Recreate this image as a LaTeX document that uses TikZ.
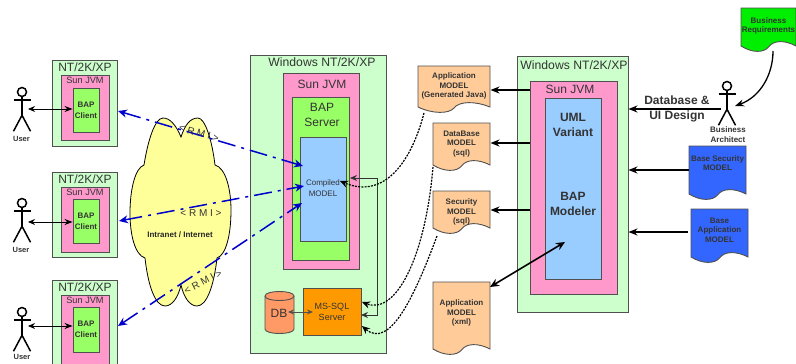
\documentclass[tikz,border=0pt]{standalone}
\usepackage{fontspec}
\setmainfont{Liberation Sans}
\usetikzlibrary{arrows.meta}
\definecolor{lgreen}{HTML}{CCFFCC}
\definecolor{pinkb}{HTML}{FF99CC}
\definecolor{greenb}{HTML}{99FF66}
\definecolor{blueb}{HTML}{99CCFF}
\definecolor{docor}{HTML}{FFCC99}
\definecolor{sqlor}{HTML}{FF9900}
\definecolor{dbor}{HTML}{FF9966}
\definecolor{cloudy}{HTML}{FFFF99}
\definecolor{docbl}{HTML}{3366FF}
\definecolor{docgr}{HTML}{00EE00}
\definecolor{edge}{HTML}{505050}
\definecolor{ink}{HTML}{333333}
\tikzset{
  boxs/.style={draw=edge,line width=.9pt,inner sep=0pt,text=ink,align=center},
  outer/.style={boxs,fill=lgreen},
  pinkbox/.style={boxs,fill=pinkb},
  greenbox/.style={boxs,fill=greenb},
  bluebox/.style={boxs,fill=blueb},
  lbl/.style={inner sep=0pt,align=center,text=ink},
  small/.style={lbl,font=\fontsize{8}{9.6}\selectfont\bfseries},
  solidarrow/.style={-{Stealth[length=9pt,width=7pt]},line width=1.6pt,draw=black},
  twoway/.style={{Stealth[length=7pt,width=6pt]}-{Stealth[length=8pt,width=6pt]},line width=1pt,draw=black},
  rmi/.style={{Stealth[length=9pt,width=8pt]}-{Stealth[length=9pt,width=8pt]},line width=1.5pt,draw=blue!80!black,dash pattern=on 18pt off 6pt on 3pt off 6pt},
  dotarrow/.style={-{Stealth[length=8pt,width=7pt]},line width=1.2pt,draw=black,dash pattern=on 2pt off 1.2pt},
  actorline/.style={draw=black,line width=1.5pt},
  rmitext/.style={inner sep=0pt,text=ink,font=\fontsize{10}{12}\selectfont},
}
% name x1 y1 x2 y2 style
\newcommand\rbox[6]{%
  \pgfmathsetmacro\bw{#4-#2}\pgfmathsetmacro\bh{#5-#3}%
  \pgfmathsetmacro\bx{(#2+#4)/2}\pgfmathsetmacro\by{(#3+#5)/2}%
  \node[#6,minimum width=\bw pt,minimum height=\bh pt] (#1) at (\bx,\by) {};}
% name x1 y1 x2 y2 fill textcolor text-y text
\newcommand\docshape[9]{%
  \pgfmathsetmacro\bw{#4-#2}%
  \pgfmathsetmacro\ya{#5-6}\pgfmathsetmacro\yb{#5-12}\pgfmathsetmacro\yc{#5+1}\pgfmathsetmacro\yd{#5-5}%
  \pgfmathsetmacro\xa{#2+0.2*\bw}\pgfmathsetmacro\xb{#2+0.5*\bw}\pgfmathsetmacro\xc{#2+0.8*\bw}%
  \draw[draw=edge,line width=.9pt,fill=#6] (#2,#3) -- (#4,#3) -- (#4,\ya)
    .. controls (\xc,\yb) and (\xb+5,\yb) .. (\xb,\yd)
    .. controls (\xb-5,\yc) and (\xa,\yc) .. (#2,\ya) -- cycle;
  \pgfmathsetmacro\bx{(#2+#4)/2}%
  \node[small,text=#7] (#1) at (\bx,#8) {#9};}
% name headx heady
\newcommand\actor[3]{%
  \node[circle,draw=black,line width=1.5pt,minimum size=9pt,inner sep=0pt] (#1) at (#2,#3) {};
  \draw[actorline] (#1.south) -- ++(0,18) coordinate (#1hip);
  \draw[actorline] (#2-8.5,#3+8) -- (#2+8.5,#3+8);
  \draw[actorline] (#1hip) -- ++(-8.5,16);
  \draw[actorline] (#1hip) -- ++(8.5,16);}
\begin{document}
\begin{tikzpicture}[x=1pt,y=-1pt]
\path[use as bounding box,fill=white] (0,0) rectangle (796,364);

% clients
\rbox{c1o}{52}{60}{117}{146}{outer}
\rbox{c1p}{61}{75}{109}{140}{pinkbox}
\rbox{c1g}{73}{88}{99}{132}{greenbox}
\rbox{c2o}{52}{172}{117}{257}{outer}
\rbox{c2p}{61}{187}{109}{252}{pinkbox}
\rbox{c2g}{73}{199}{99}{243}{greenbox}
\rbox{c3o}{52}{280}{117}{372}{outer}
\rbox{c3p}{61}{295}{109}{368}{pinkbox}
\rbox{c3g}{73}{307}{99}{352}{greenbox}
\foreach \i/\yo/\yj/\yc in {1/67/80/110,2/179/192/221,3/287/300/329}{
  \node[lbl,font=\fontsize{12}{14}\selectfont] (nt\i) at (85,\yo) {NT/2K/XP};
  \node[lbl,font=\fontsize{9.2}{11}\selectfont] (jv\i) at (85,\yj) {Sun JVM};
  \node[small,text=black!80] (bc\i) at (86,\yc) {BAP\\[1pt]Client};
}

% actors
\actor{u1}{22}{92}
\actor{u2}{22}{203}
\actor{u3}{22}{312}
\node[small,font=\fontsize{7.5}{9}\selectfont\bfseries] (ul1) at (21.5,139) {User};
\node[small,font=\fontsize{7.5}{9}\selectfont\bfseries] (ul2) at (21,250) {User};
\node[small,font=\fontsize{7.5}{9}\selectfont\bfseries] (ul3) at (22,357) {User};
\coordinate (ua1) at (28,109);
\coordinate (ua2) at (28,222);
\coordinate (ua3) at (28,326);
\draw[twoway] (ua1) -- (ua1 -| c1g.west);
\draw[twoway] (ua2) -- (ua2 -| c2g.west);
\draw[twoway] (ua3) -- (ua3 -| c3g.west);

% cloud
\draw[draw=black,line width=.8pt,fill=cloudy] (181,137)
  .. controls (176,125) and (170,118) .. (163,118)
  .. controls (155,118) and (148,140) .. (144,165)
  .. controls (135,168) and (130,190) .. (130,213)
  .. controls (130,235) and (135,255) .. (145,258)
  .. controls (148,285) and (155,306) .. (165,306)
  .. controls (172,306) and (178,298) .. (181,285)
  .. controls (184,298) and (190,306) .. (197,306)
  .. controls (207,306) and (214,285) .. (217,258)
  .. controls (226,255) and (231,235) .. (231,210)
  .. controls (231,190) and (226,168) .. (215,165)
  .. controls (212,140) and (205,118) .. (198,118)
  .. controls (190,118) and (185,125) .. (181,137) -- cycle;
\node[small,text=black!85] (net) at (180,235) {Intranet / Internet};

% server box
\rbox{so}{250}{55}{386}{353}{outer}
\node[lbl,font=\fontsize{12.2}{15}\selectfont] (st) at (322,62) {Windows NT/2K/XP};
\rbox{sp}{283}{73}{359}{269}{pinkbox}
\node[lbl,font=\fontsize{12}{14}\selectfont] (sj) at (322,84) {Sun JVM};
\rbox{sg}{292}{97}{349}{260}{greenbox}
\node[lbl,font=\fontsize{12}{15}\selectfont] (sb) at (322,115) {BAP\\Server};
\rbox{sm}{300}{137}{346}{241}{bluebox}
\node[lbl,font=\fontsize{8}{10.5}\selectfont] (cm) at (323,188) {Compiled\\MODEL};

% DB
\draw[draw=edge,line width=.9pt,fill=dbor] (265,296) -- (265,329)
  .. controls (265,335) and (294,335) .. (294,329) -- (294,296)
  .. controls (294,290) and (265,290) .. (265,296) -- cycle;
\draw[draw=edge,line width=.9pt] (265,296) .. controls (265,302) and (294,302) .. (294,296);
\node[lbl,font=\fontsize{12}{14}\selectfont] (db) at (279,313) {DB};
\rbox{sql}{303}{288}{361}{335}{boxs,fill=sqlor}
\node[lbl,font=\fontsize{9}{11}\selectfont] (sqlt) at (332,311.5) {MS-SQL\\Server};
\coordinate (dbe) at (288,312);
\coordinate (sqw) at (313,312);
\draw[{Stealth[length=6pt,width=5pt]}-{Stealth[length=6pt,width=5pt]},line width=1pt,draw=edge] (dbe) -- (sqw);

% right box
\rbox{ro}{517}{56}{628}{312}{outer}
\node[lbl,font=\fontsize{12.2}{15}\selectfont] (rt) at (574,65) {Windows NT/2K/XP};
\rbox{rp}{530}{81}{617}{294}{pinkbox}
\node[lbl,font=\fontsize{12}{14}\selectfont] (rj) at (570,89) {Sun JVM};
\rbox{rm}{545}{98}{601}{279}{bluebox}
\node[lbl,font=\fontsize{12}{15}\selectfont\bfseries] (uml) at (573,124.5) {UML\\Variant};
\node[lbl,font=\fontsize{12}{15}\selectfont\bfseries] (bm) at (573,203.5) {BAP\\Modeler};

% documents
\docshape{d1}{418}{66}{490}{113}{docor}{black!80}{86}{Application\\MODEL\\(Generated Java)}
\docshape{d2}{433}{123}{490}{171}{docor}{black!80}{144}{DataBase\\MODEL\\(sql)}
\docshape{d3}{433}{191}{490}{234}{docor}{black!80}{212}{Security\\MODEL\\(sql)}
\docshape{d4}{433}{282}{490}{355}{docor}{black!80}{313}{Application\\MODEL\\(xml)}
\docshape{d5}{689}{146}{746}{200}{docbl}{black!80}{163}{Base Security\\MODEL}
\docshape{d6}{691}{209}{748}{263}{docbl}{black!80}{230}{Base\\Application\\MODEL}
\docshape{d7}{741}{8}{796}{52}{docgr}{black!80}{26}{Business\\Requirements}

% architect
\actor{ba}{727}{86}
\node[small] (bal) at (728,134.5) {Business\\Architect};

% arrows to documents
\foreach \y/\d in {90/d1,143/d2,210/d3}{
  \draw[solidarrow] (rp.west |- 0,\y) -- (490.5,\y);
}
\coordinate (me) at (565,242);
\coordinate (de) at (490,287);
\draw[{Stealth[length=9pt,width=8pt]}-{Stealth[length=9pt,width=8pt]},line width=1.6pt] (de) -- (me);

% arrows to right box
\coordinate (bae) at (721,109);
\draw[solidarrow] (bae) -- (ro.east |- bae);
\node[lbl,font=\fontsize{12}{15}\selectfont\bfseries] (ui) at (677,108.5) {Database \&\\UI Design};
\coordinate (s5) at (689,170);
\coordinate (s6) at (688,232);
\draw[solidarrow] (s5) -- (s5 -| ro.east);
\draw[solidarrow] (s6) -- (s6 -| ro.east);
\coordinate (brq) at (773,51);
\coordinate (bat) at (735,106);
\draw[solidarrow,line width=1.3pt] (brq) .. controls (773,75) and (760,97) .. (bat);

% server loop
\coordinate (sq1) at (361,315);
\coordinate (lp1) at (377,315);
\coordinate (lp2) at (377,178);
\coordinate (lp3) at (350,178);
\draw[{Stealth[length=7pt,width=6pt]}-{Stealth[length=7pt,width=6pt]},line width=.9pt,draw=black!80] (sq1) -- (lp1) -- (lp2) -- (lp3);

% dotted curves
\coordinate (d1a) at (424,113);
\coordinate (cm1) at (340,181);
\draw[dotarrow] (d1a) .. controls (412,160) and (385,200) .. (cm1);
\coordinate (d2a) at (433,167);
\coordinate (sq2) at (362,302);
\draw[dotarrow] (d2a) .. controls (425,260) and (395,315) .. (sq2);
\coordinate (d3a) at (437,236);
\coordinate (sq3) at (362,326);
\draw[dotarrow] (d3a) .. controls (415,295) and (390,350) .. (sq3);

% RMI links
\coordinate (cl1) at (118,111);
\coordinate (cl2) at (119,221);
\coordinate (cl3) at (118,326);
\coordinate (sv1) at (303,166);
\coordinate (sv2) at (304,186);
\coordinate (sv3) at (302,203);
\draw[rmi] (cl1) -- (sv1);
\draw[rmi] (cl2) -- (sv2);
\draw[rmi] (cl3) -- (sv3);
\node[rmitext,rotate=-16] (r1) at (199,133) {< R M I >};
\node[rmitext] (r2) at (201,213) {< R M I >};
\node[rmitext,rotate=28] (r3) at (203,282) {< R M I >};
\end{tikzpicture}
\end{document}
